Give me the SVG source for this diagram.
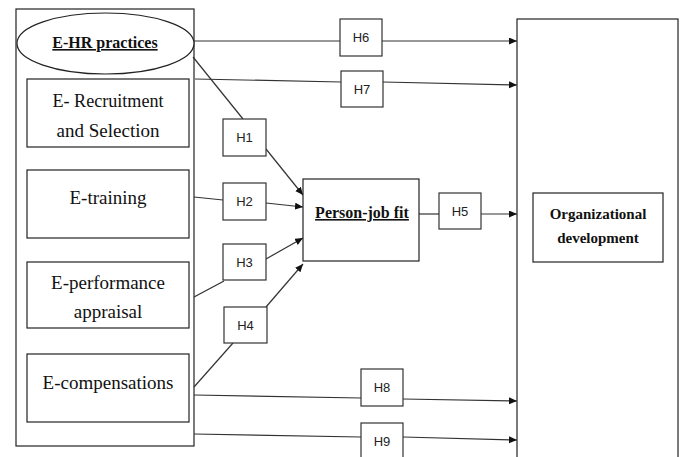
<svg xmlns="http://www.w3.org/2000/svg" width="683" height="457" viewBox="0 0 683 457">
<style>
.box{fill:#fff;stroke:#222;stroke-width:1.2}
.hbox{fill:#fff;stroke:#333;stroke-width:1.2}
.ln{stroke:#333;stroke-width:1.2;fill:none}
.ar{marker-end:url(#arr)}
.serif{font-family:'Liberation Serif','Times New Roman','DejaVu Serif',serif;fill:#111}
.big{font-size:19px}
.bold{font-weight:bold}
.ul{text-decoration:underline}
.h{font-family:'Liberation Sans',Arial,sans-serif;font-size:13px;fill:#222}
</style>
<defs>
<marker id="arr" markerUnits="userSpaceOnUse" markerWidth="9" markerHeight="8" refX="8" refY="3.5" orient="auto">
<path d="M0,0 L8,3.5 L0,7 z" fill="#111"/>
</marker>
</defs>
<rect width="683" height="457" fill="#fff"/>
<g id="ehr-group">
<rect class="box" x="16" y="9" width="178" height="437"/>
</g>
<g id="od-group">
<rect class="box" x="517" y="19" width="161" height="450"/>
</g>
<g id="connectors">
<line class="ln" x1="194" y1="41" x2="340" y2="41"/>
<line class="ln ar" x1="382" y1="41" x2="517" y2="41"/>
<line class="ln" x1="195" y1="79" x2="341" y2="82"/>
<line class="ln ar" x1="383" y1="82" x2="517" y2="85"/>
<line class="ln" x1="193" y1="57" x2="243" y2="119"/>
<line class="ln ar" x1="266" y1="149" x2="303" y2="195"/>
<line class="ln" x1="194" y1="197" x2="223" y2="200"/>
<line class="ln ar" x1="266" y1="203" x2="303" y2="207"/>
<line class="ln" x1="194" y1="297" x2="224" y2="281"/>
<line class="ln ar" x1="266" y1="259" x2="303" y2="238"/>
<line class="ln" x1="194" y1="387" x2="233" y2="343"/>
<line class="ln ar" x1="266" y1="307" x2="303" y2="264"/>
<line class="ln" x1="419" y1="214" x2="439" y2="214"/>
<line class="ln ar" x1="481" y1="214" x2="517" y2="214"/>
<line class="ln" x1="194" y1="395" x2="361" y2="398"/>
<line class="ln ar" x1="403" y1="399" x2="517" y2="401"/>
<line class="ln" x1="194" y1="434" x2="361" y2="437"/>
<line class="ln ar" x1="403" y1="437" x2="517" y2="440"/>
</g>
<g id="ehr-practices">
<ellipse class="box" cx="105.5" cy="43.5" rx="88.5" ry="30.5"/>
<text class="serif bold ul" x="105" y="48" font-size="16" text-anchor="middle">E-HR practices</text>
</g>
<g id="e-recruitment">
<rect class="box" x="27" y="79" width="162" height="68"/>
<text class="serif big" x="108" y="107" text-anchor="middle" textLength="111" lengthAdjust="spacingAndGlyphs">E- Recruitment</text>
<text class="serif big" x="108" y="137" text-anchor="middle">and Selection</text>
</g>
<g id="e-training">
<rect class="box" x="27" y="170" width="162" height="68"/>
<text class="serif big" x="108" y="204" text-anchor="middle">E-training</text>
</g>
<g id="e-performance">
<rect class="box" x="27" y="262" width="162" height="66"/>
<text class="serif big" x="108" y="289" text-anchor="middle">E-performance</text>
<text class="serif big" x="108" y="318" text-anchor="middle">appraisal</text>
</g>
<g id="e-compensations">
<rect class="box" x="27" y="354" width="162" height="68"/>
<text class="serif big" x="108" y="389" text-anchor="middle">E-compensations</text>
</g>
<g id="person-job-fit">
<rect class="box" x="303" y="179" width="116" height="82"/>
<text class="serif bold ul" x="362" y="218" font-size="16" text-anchor="middle">Person-job fit</text>
</g>
<g id="organizational-development">
<rect class="box" x="533" y="193" width="130" height="69"/>
<text class="serif bold" x="598" y="219" font-size="15" text-anchor="middle">Organizational</text>
<text class="serif bold" x="598" y="243" font-size="15" text-anchor="middle">development</text>
</g>
<g id="H1"><rect class="hbox" x="223" y="119" width="43" height="37"/><text class="h" x="244.5" y="142" text-anchor="middle">H1</text></g>
<g id="H2"><rect class="hbox" x="223" y="183" width="43" height="37"/><text class="h" x="244.5" y="206" text-anchor="middle">H2</text></g>
<g id="H3"><rect class="hbox" x="223" y="244" width="43" height="36"/><text class="h" x="244.5" y="267" text-anchor="middle">H3</text></g>
<g id="H4"><rect class="hbox" x="224" y="307" width="43" height="36"/><text class="h" x="245.5" y="330" text-anchor="middle">H4</text></g>
<g id="H5"><rect class="hbox" x="439" y="193" width="42" height="36"/><text class="h" x="460" y="216" text-anchor="middle">H5</text></g>
<g id="H6"><rect class="hbox" x="340" y="19" width="42" height="37"/><text class="h" x="361" y="42" text-anchor="middle">H6</text></g>
<g id="H7"><rect class="hbox" x="341" y="71" width="42" height="36"/><text class="h" x="362" y="94" text-anchor="middle">H7</text></g>
<g id="H8"><rect class="hbox" x="361" y="369" width="42" height="37"/><text class="h" x="382" y="392" text-anchor="middle">H8</text></g>
<g id="H9"><rect class="hbox" x="361" y="423" width="42" height="37"/><text class="h" x="382" y="446" text-anchor="middle">H9</text></g>
</svg>
